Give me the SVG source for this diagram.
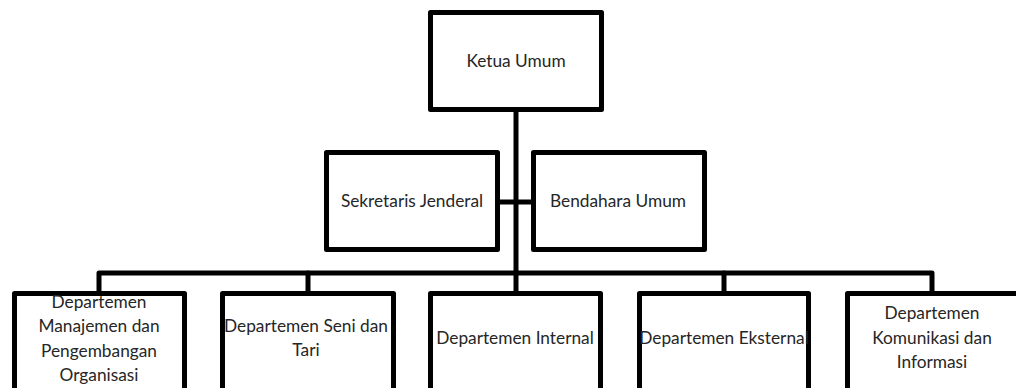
<svg xmlns="http://www.w3.org/2000/svg" width="1016" height="388" viewBox="0 0 1016 388">
<style>
.box{fill:#fff;stroke:#000;stroke-width:5;stroke-linejoin:round}
.ln{fill:none;stroke:#000;stroke-width:5;stroke-linejoin:round;stroke-linecap:round}
text{font-family:Lato,"Liberation Sans",sans-serif;font-size:17.3px;fill:#262626;text-anchor:middle}
</style>
<rect width="1016" height="388" fill="#fff"/>
<g id="connectors">
<path class="ln" d="M516 112 V273"/>
<path class="ln" d="M499 202 H531"/>
<path class="ln" d="M99 291 V273 H932 V291"/>
<path class="ln" d="M308 273 V291"/>
<path class="ln" d="M516 273 V291"/>
<path class="ln" d="M724 273 V291"/>
</g>
<g id="ketua"><rect class="box" x="430.5" y="12.5" width="171" height="97"/><text x="516" y="67">Ketua Umum</text></g>
<g id="sekjen"><rect class="box" x="326.5" y="152.5" width="171" height="97"/><text x="412" y="207">Sekretaris Jenderal</text></g>
<g id="bendahara"><rect class="box" x="533.5" y="152.5" width="171" height="97"/><text x="618" y="207">Bendahara Umum</text></g>
<g id="dep1"><rect class="box" x="14.5" y="293.5" width="170" height="110"/><text x="99"><tspan x="99" y="308">Departemen</tspan><tspan x="99" y="332">Manajemen dan</tspan><tspan x="99" y="357">Pengembangan</tspan><tspan x="99" y="381">Organisasi</tspan></text></g>
<g id="dep2"><rect class="box" x="222.5" y="293.5" width="171" height="110"/><text x="308"><tspan x="306" y="332">Departemen Seni dan</tspan><tspan x="306" y="356">Tari</tspan></text></g>
<g id="dep3"><rect class="box" x="430.5" y="293.5" width="170" height="110"/><text x="515" y="344">Departemen Internal</text></g>
<g id="dep4"><rect class="box" x="639.5" y="293.5" width="169" height="110"/><text x="724" y="344">Departemen Eksternal</text></g>
<g id="dep5"><rect class="box" x="847.5" y="293.5" width="172" height="110"/><text x="932"><tspan x="932" y="319">Departemen</tspan><tspan x="932" y="344">Komunikasi dan</tspan><tspan x="932" y="368">Informasi</tspan></text></g>
</svg>
